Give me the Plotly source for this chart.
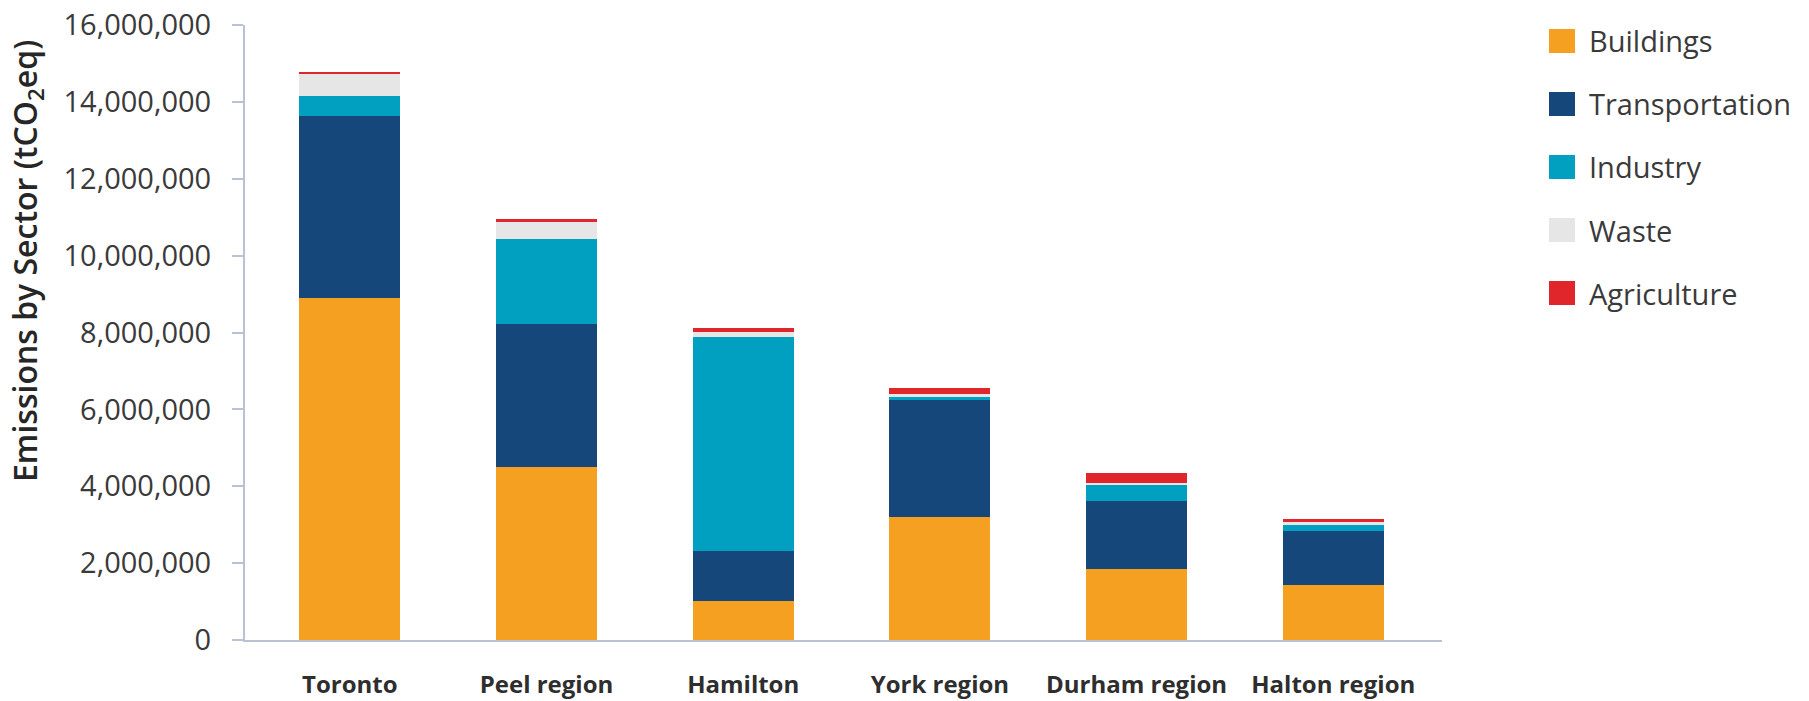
import plotly.graph_objects as go

# ---- data ----
regions = ["Toronto", "Peel region", "Hamilton", "York region", "Durham region", "Halton region"]
buildings      = [8890000, 4500000, 1020000, 3190000, 1850000, 1440000]
transportation = [4750000, 3720000, 1300000, 3060000, 1760000, 1390000]
industry       = [520000, 2210000, 5560000, 80000, 410000, 160000]
waste          = [560000, 470000, 130000, 70000, 70000, 90000]
agriculture    = [70000, 50000, 100000, 160000, 250000, 70000]

sector_names = ["Buildings", "Transportation", "Industry", "Waste", "Agriculture"]
sector_values = [buildings, transportation, industry, waste, agriculture]
sector_colors = ["#F6A021", "#15477A", "#02A0C0", "#E6E6E6", "#E0262B"]

y_ticks = [0, 2000000, 4000000, 6000000, 8000000, 10000000, 12000000, 14000000, 16000000]
y_title = "Emissions by Sector (tCO<sub>2</sub>eq)"

# ---- layout geometry ----
W, H = 1809, 701
ML, MR, MT, MB = 245, 367, 25, 61
PW, PH = W - ML - MR, H - MT - MB


def px(x):
    return (x - ML) / PW


def py(y):
    return (H - MB - y) / PH


AXIS_COLOR = "#B9C1D4"
TEXT_COLOR = "#3A3A3A"
FONT = "Open Sans"

fig = go.Figure()
for name, vals, col in zip(sector_names, sector_values, sector_colors):
    fig.add_trace(go.Bar(
        x=list(range(len(regions))), y=vals, name=name,
        marker=dict(color=col, line=dict(width=0)),
        showlegend=False,
    ))

fig.update_layout(
    width=W, height=H,
    margin=dict(l=ML, r=MR, t=MT, b=MB, pad=0, autoexpand=False),
    barmode="stack", bargap=0.486,
    plot_bgcolor="white", paper_bgcolor="white",
    font=dict(family=FONT, color=TEXT_COLOR),
)

fig.update_xaxes(
    range=[-0.533, 5.553], automargin=False,
    tickmode="array", tickvals=list(range(len(regions))), ticktext=regions,
    tickfont=dict(family=FONT, size=24, color="#2E2E2E", weight=700),
    showline=True, linecolor=AXIS_COLOR, linewidth=2,
    ticks="", showgrid=False, zeroline=False,
    ticklabelstandoff=22,
)
fig.update_yaxes(
    range=[0, 16000000], automargin=False,
    tickmode="array", tickvals=y_ticks,
    ticktext=[f"{v:,}" for v in y_ticks],
    tickfont=dict(family=FONT, size=29, color=TEXT_COLOR),
    showline=True, linecolor=AXIS_COLOR, linewidth=2,
    ticks="outside", ticklen=11, tickcolor=AXIS_COLOR, tickwidth=2,
    showgrid=False, zeroline=False,
    ticklabelstandoff=15,
)

# y-axis title
fig.add_annotation(
    text=y_title, xref="paper", yref="paper",
    x=px(27), y=py(261), xanchor="center", yanchor="middle",
    textangle=-90, showarrow=False,
    font=dict(family=FONT, size=32, color="#262626", weight=600),
)

# custom legend
leg_y = [41, 104, 167, 230, 293]
for name, col, yc in zip(sector_names, sector_colors, leg_y):
    fig.add_shape(
        type="rect", xref="paper", yref="paper",
        x0=px(1549), x1=px(1575), y0=py(yc + 12), y1=py(yc - 12),
        fillcolor=col, line=dict(width=0),
    )
    fig.add_annotation(
        text=name, xref="paper", yref="paper",
        x=px(1587), y=py(yc), xanchor="left", yanchor="middle",
        showarrow=False,
        font=dict(family=FONT, size=29, color=TEXT_COLOR),
    )

fig.write_html("out.html")
